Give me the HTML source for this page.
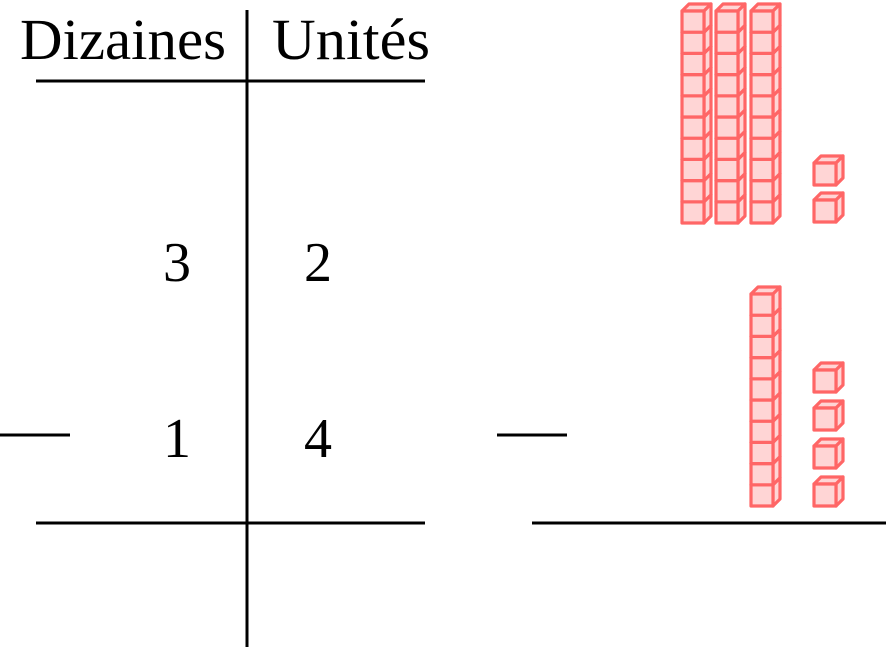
<!DOCTYPE html>
<html><head><meta charset="utf-8"><style>
html,body{margin:0;padding:0;background:#fff;}
svg{display:block;}
text{font-family:"Liberation Serif",serif;fill:#000;}
</style></head><body>
<svg id="s" width="886" height="649" viewBox="0 0 886 649" xmlns="http://www.w3.org/2000/svg">
<g stroke="#000" stroke-width="3">
<line x1="247" y1="10" x2="247" y2="647"/>
<line x1="36" y1="81" x2="425" y2="81"/>
<line x1="36" y1="523" x2="425" y2="523"/>
<line x1="0" y1="435" x2="70" y2="435"/>
<line x1="497" y1="435" x2="567" y2="435"/>
<line x1="532" y1="523" x2="886" y2="523"/>
</g>
<text x="20" y="59" font-size="58" textLength="206" lengthAdjust="spacingAndGlyphs">Dizaines</text>
<text x="272" y="59" font-size="58" textLength="158" lengthAdjust="spacingAndGlyphs">Unités</text>
<text x="177" y="281" font-size="56" text-anchor="middle">3</text>
<text x="318" y="281" font-size="56" text-anchor="middle">2</text>
<text x="177" y="457" font-size="56" text-anchor="middle">1</text>
<text x="318" y="457" font-size="56" text-anchor="middle">4</text>
<g id="cubes" stroke="#ff6666" stroke-width="3.2" stroke-linejoin="round" fill="#ffd5d5"></g>
</svg>
<script>
var g=document.getElementById('cubes'),s='';
function cube(x,y,w,h,d){
 s+='<polygon points="'+x+','+y+' '+(x+d)+','+(y-d)+' '+(x+w+d)+','+(y-d)+' '+(x+w)+','+y+'"/>';
 s+='<polygon points="'+(x+w)+','+y+' '+(x+w+d)+','+(y-d)+' '+(x+w+d)+','+(y+h-d)+' '+(x+w)+','+(y+h)+'"/>';
 s+='<rect x="'+x+'" y="'+y+'" width="'+w+'" height="'+h+'"/>';
}
function rod(x,top,bot){var h=(bot-top)/10;for(var i=9;i>=0;i--)cube(x,top+i*h,22,h,7);}
rod(682,11,223);rod(716,11,223);rod(751,11,223);
cube(814,163,22,22,7);cube(814,200,22,22,7);
rod(751,294,506);
[370,408,446,484].forEach(function(y){cube(814,y,22,22,7);});
g.innerHTML=s;
</script>
</body></html>
